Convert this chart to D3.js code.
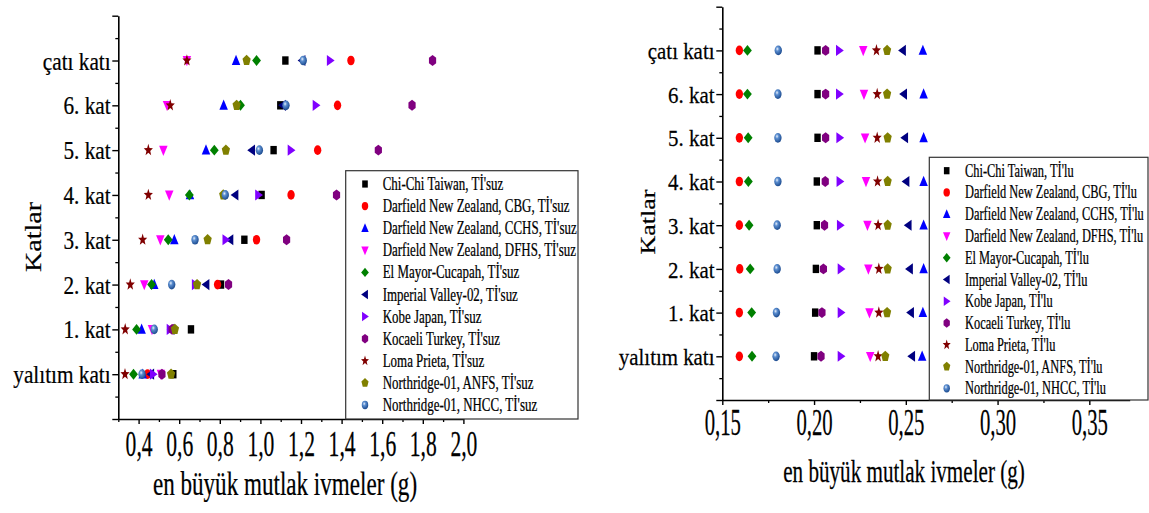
<!DOCTYPE html>
<html>
<head>
<meta charset="utf-8">
<script src="https://cdn.jsdelivr.net/npm/d3@7"></script>
<style>
  body { margin: 0; background: #fff; }
  text { font-family: "Liberation Serif", "Times New Roman", serif; fill: #000; stroke: #000; stroke-width: 0.25px; }
</style>
</head>
<body>
<svg id="chart" width="1149" height="513"></svg>
<script>
// floors, bottom to top
const floors = ["yalıtım katı", "1. kat", "2. kat", "3. kat", "4. kat", "5. kat", "6. kat", "çatı katı"];

const quakes = ["Chi-Chi Taiwan", "Darfield New Zealand, CBG", "Darfield New Zealand, CCHS",
  "Darfield New Zealand, DFHS", "El Mayor-Cucapah", "Imperial Valley-02", "Kobe Japan",
  "Kocaeli Turkey", "Loma Prieta", "Northridge-01, ANFS", "Northridge-01, NHCC"];

// peak absolute accelerations (g) without isolation (Tİ'suz)
const chichiSuz   = [0.571, 0.658, 0.806, 0.921, 1.006, 1.065, 1.098, 1.123];
const cbgSuz      = [0.444, 0.570, 0.789, 0.981, 1.151, 1.282, 1.380, 1.446];
const cchsSuz     = [0.420, 0.415, 0.477, 0.576, 0.653, 0.732, 0.819, 0.880];
const dfhsSuz     = [0.510, 0.466, 0.428, 0.507, 0.551, 0.522, 0.540, 0.638];
const elMayorSuz  = [0.375, 0.390, 0.464, 0.546, 0.650, 0.773, 0.902, 0.981];
const imperialSuz = [0.460, 0.560, 0.732, 0.850, 0.875, 0.957, 1.109, 1.205];
const kobeSuz     = [0.472, 0.555, 0.679, 0.830, 0.991, 1.151, 1.274, 1.344];
const kocaeliSuz  = [0.515, 0.565, 0.843, 1.129, 1.375, 1.581, 1.747, 1.848];
const lomaSuz     = [0.333, 0.334, 0.359, 0.420, 0.448, 0.448, 0.556, 0.638];
const anfsSuz     = [0.560, 0.579, 0.688, 0.740, 0.817, 0.830, 0.883, 0.932];
const nhccSuz     = [0.417, 0.477, 0.563, 0.678, 0.827, 0.995, 1.126, 1.211];

// peak absolute accelerations (g) with isolation (Tİ'lu)
const chichiLu   = [0.2000, 0.2006, 0.2010, 0.2015, 0.2015, 0.2019, 0.2019, 0.2019];
const cbgLu      = [0.1593, 0.1593, 0.1595, 0.1593, 0.1593, 0.1593, 0.1593, 0.1593];
const cchsLu     = [0.2589, 0.2593, 0.2597, 0.2597, 0.2597, 0.2597, 0.2597, 0.2593];
const dfhsLu     = [0.2306, 0.2302, 0.2296, 0.2291, 0.2283, 0.2278, 0.2272, 0.2268];
const elMayorLu  = [0.1662, 0.1660, 0.1652, 0.1646, 0.1642, 0.1641, 0.1637, 0.1637];
const imperialLu = [0.2532, 0.2526, 0.2520, 0.2513, 0.2501, 0.2494, 0.2488, 0.2482];
const kobeLu     = [0.2147, 0.2147, 0.2147, 0.2143, 0.2141, 0.2140, 0.2138, 0.2138];
const kocaeliLu  = [0.2038, 0.2043, 0.2051, 0.2057, 0.2061, 0.2063, 0.2063, 0.2063];
const lomaLu     = [0.2349, 0.2353, 0.2353, 0.2349, 0.2346, 0.2344, 0.2344, 0.2340];
const anfsLu     = [0.2388, 0.2398, 0.2401, 0.2401, 0.2401, 0.2401, 0.2398, 0.2398];
const nhccLu     = [0.1793, 0.1795, 0.1799, 0.1799, 0.1803, 0.1803, 0.1803, 0.1805];

const seriesSuz = [chichiSuz, cbgSuz, cchsSuz, dfhsSuz, elMayorSuz, imperialSuz, kobeSuz, kocaeliSuz, lomaSuz, anfsSuz, nhccSuz];
const seriesLu = [chichiLu, cbgLu, cchsLu, dfhsLu, elMayorLu, imperialLu, kobeLu, kocaeliLu, lomaLu, anfsLu, nhccLu];

// marker style per earthquake
const markers = [
  { shape: "square", color: "#000000" },
  { shape: "circle", color: "#ff0000" },
  { shape: "up", color: "#0000ff" },
  { shape: "down", color: "#ff00ff" },
  { shape: "diamond", color: "#008000" },
  { shape: "left", color: "#000080" },
  { shape: "right", color: "#8000ff" },
  { shape: "hexagon", color: "#800080" },
  { shape: "star", color: "#800000" },
  { shape: "pentagon", color: "#808000" },
  { shape: "sphere", color: "url(#sphere)" }
];

const svg = d3.select("#chart");

// shaded ball for the NHCC marker
const grad = svg.append("defs").append("radialGradient")
  .attr("id", "sphere").attr("cx", "38%").attr("cy", "35%").attr("r", "65%");
grad.append("stop").attr("offset", "0%").attr("stop-color", "#e8f0fb");
grad.append("stop").attr("offset", "35%").attr("stop-color", "#5a8dcf");
grad.append("stop").attr("offset", "100%").attr("stop-color", "#1d4c90");

function polyPath(pts) {
  return "M" + pts.map(p => p[0].toFixed(2) + "," + p[1].toFixed(2)).join("L") + "Z";
}

function ring(n, r, start) {
  return d3.range(n).map(i => {
    const a = start + i * 2 * Math.PI / n;
    return [r * Math.cos(a), r * Math.sin(a)];
  });
}

function markerPath(shape) {
  switch (shape) {
    case "square": return "M-4,-4H4V4H-4Z";
    case "circle":
    case "sphere": return d3.symbol(d3.symbolCircle, Math.PI * 4.6 * 4.6)();
    case "up": return polyPath([[0, -5.5], [5.3, 4.2], [-5.3, 4.2]]);
    case "down": return polyPath([[0, 5.5], [5.3, -4.2], [-5.3, -4.2]]);
    case "left": return polyPath([[-5.5, 0], [4.2, -5.3], [4.2, 5.3]]);
    case "right": return polyPath([[5.5, 0], [-4.2, -5.3], [-4.2, 5.3]]);
    case "diamond": return polyPath([[0, -5.2], [5.5, 0], [0, 5.2], [-5.5, 0]]);
    case "hexagon": return polyPath(ring(6, 5.2, -Math.PI / 2));
    case "pentagon": return polyPath(ring(5, 5.4, -Math.PI / 2));
    case "star": {
      const pts = d3.range(10).map(i => {
        const a = -Math.PI / 2 + i * Math.PI / 5;
        const r = i % 2 === 0 ? 6 : 2.5;
        return [r * Math.cos(a), r * Math.sin(a)];
      });
      return polyPath(pts);
    }
  }
}

const locale = d3.formatLocale({ decimal: ",", thousands: ".", grouping: [3], currency: ["", ""] });

function drawChart(cfg) {
  const g = svg.append("g");
  const x = d3.scaleLinear().domain(cfg.xDomain).range([cfg.left, cfg.right]);
  const y = d3.scaleLinear().domain([-1, 8]).range([cfg.bottom, cfg.top]);

  // x axis: minor ticks then major ticks with labels
  g.append("g")
    .attr("transform", `translate(0,${cfg.bottom})`)
    .call(d3.axisBottom(x).tickValues(cfg.xMinor).tickSize(3).tickFormat(""))
    .call(s => s.select(".domain").remove())
    .selectAll("line").attr("stroke-width", 1.3);

  const xa = g.append("g")
    .attr("transform", `translate(0,${cfg.bottom})`)
    .call(d3.axisBottom(x).tickValues(cfg.xMajor).tickSize(5).tickSizeOuter(0)
      .tickFormat(locale.format(cfg.xFormat)))
    .attr("font-family", null).attr("font-size", cfg.xFont);
  xa.select(".domain").attr("stroke-width", 1.6);
  xa.selectAll("line").attr("stroke-width", 1.4);
  xa.selectAll("text")
    .attr("dy", null)
    .attr("y", cfg.xLabelY)
    .attr("transform", `scale(${cfg.xScale},1)`);

  // y axis: minor ticks then major ticks with floor names
  g.append("g")
    .attr("transform", `translate(${cfg.left},0)`)
    .call(d3.axisLeft(y).tickValues(d3.range(-0.5, 8, 1)).tickSize(3).tickFormat(""))
    .call(s => s.select(".domain").remove())
    .selectAll("line").attr("stroke-width", 1.3);

  const ya = g.append("g")
    .attr("transform", `translate(${cfg.left},0)`)
    .call(d3.axisLeft(y).tickValues(d3.range(-1, 9)).tickSize(6).tickSizeOuter(0)
      .tickFormat(i => floors[i] || ""))
    .attr("font-family", null).attr("font-size", cfg.yFont);
  ya.select(".domain").attr("stroke-width", 1.6);
  ya.selectAll("line").attr("stroke-width", 1.4);
  ya.selectAll("text")
    .attr("x", -9)
    .attr("dy", "0.34em")
    .attr("transform", `scale(${cfg.yScale},1)`);

  // points
  cfg.series.forEach((vals, k) => {
    const m = markers[k];
    g.append("g").selectAll("path")
      .data(vals)
      .join("path")
      .attr("d", markerPath(m.shape))
      .attr("fill", m.color)
      .attr("transform", (v, i) => `translate(${x(v)},${y(i)}) scale(0.8,1.05)`);
  });

  // axis titles
  g.append("text")
    .attr("transform", `translate(${cfg.titleX},${cfg.titleY}) scale(${cfg.titleScale},1)`)
    .attr("text-anchor", "middle")
    .attr("font-size", cfg.titleFont)
    .text("en büyük mutlak ivmeler (g)");

  g.append("text")
    .attr("transform", `translate(${cfg.yTitleX},${cfg.yTitleY}) scale(0.8,1) rotate(-90)`)
    .attr("text-anchor", "middle")
    .attr("font-size", cfg.yTitleFont)
    .text("Katlar");

  // legend
  const lg = g.append("g");
  lg.append("rect")
    .attr("x", cfg.legend.x0).attr("y", cfg.legend.y0)
    .attr("width", cfg.legend.x1 - cfg.legend.x0)
    .attr("height", cfg.legend.y1 - cfg.legend.y0)
    .attr("fill", "#fff").attr("stroke", "#333").attr("stroke-width", 1.2);

  quakes.forEach((name, k) => {
    const ry = cfg.legend.rowY + k * cfg.legend.rowStep;
    lg.append("path")
      .attr("d", markerPath(markers[k].shape))
      .attr("fill", markers[k].color)
      .attr("transform", `translate(${cfg.legend.symX},${ry}) scale(0.7,0.9)`);
    lg.append("text")
      .attr("transform", `translate(${cfg.legend.textX},${ry + 6}) scale(${cfg.legend.textScale},1)`)
      .attr("font-size", 18.5)
      .text(`${name}, ${cfg.suffix}`);
  });
}

drawChart({
  series: seriesSuz,
  suffix: "Tİ'suz",
  xDomain: [0.3, 2.0],
  xMajor: d3.range(0.4, 2.01, 0.2),
  xMinor: d3.range(0.3, 1.95, 0.2),
  xFormat: ".1f",
  left: 118.3, right: 463.4, top: 15.7, bottom: 419,
  xFont: 36, xScale: 0.6, xLabelY: 37,
  yFont: 25, yScale: 0.85,
  titleX: 285, titleY: 495, titleFont: 33, titleScale: 0.7,
  yTitleX: 41, yTitleY: 237, yTitleFont: 28,
  legend: { x0: 345.7, y0: 170.7, x1: 578, y1: 419, rowY: 184, rowStep: 22.1, symX: 365, textX: 382.7, textScale: 0.7 }
});

drawChart({
  series: seriesLu,
  suffix: "Tİ'lu",
  xDomain: [0.15, 0.372],
  xMajor: d3.range(0.15, 0.351, 0.05),
  xMinor: d3.range(0.175, 0.37, 0.05),
  xFormat: ".2f",
  left: 722.3, right: 1129.7, top: 6.7, bottom: 400,
  xFont: 37, xScale: 0.56, xLabelY: 35,
  yFont: 24, yScale: 0.87,
  titleX: 904, titleY: 482, titleFont: 32, titleScale: 0.66,
  yTitleX: 655, yTitleY: 222, yTitleFont: 26,
  legend: { x0: 929.3, y0: 157.3, x1: 1148, y1: 400, rowY: 170.7, rowStep: 21.76, symX: 946.7, textX: 965, textScale: 0.67 }
});
</script>
</body>
</html>
